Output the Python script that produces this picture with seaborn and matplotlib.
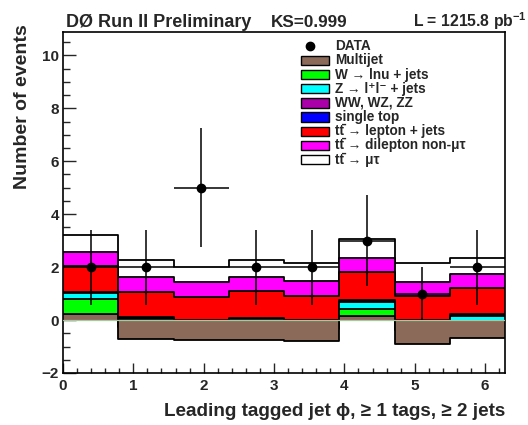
import numpy as np
import pandas as pd
import matplotlib
matplotlib.use("Agg")
import matplotlib.pyplot as plt
import seaborn as sns
from matplotlib.patches import Rectangle
from matplotlib.lines import Line2D
from matplotlib.ticker import MultipleLocator

# Binning: 8 bins in phi over [0, 2pi]
bin_edges = list(np.linspace(0.0, 2.0 * np.pi, 9))

# Observed events per bin
data_counts = [2, 2, 5, 2, 2, 3, 1, 2]

# Expected contributions per bin (stack order, bottom to top)
multijet = [0.24, -0.72, -0.74, -0.74, -0.79, 0.14, -0.89, -0.68]
w_jets = [0.54, 0.45, 0.42, 0.45, 0.46, 0.29, 0.50, 0.50]
z_jets = [0.23, 0.32, 0.28, 0.32, 0.30, 0.24, 0.33, 0.35]
diboson = [0.03, 0.02, 0.02, 0.02, 0.02, 0.05, 0.02, 0.02]
single_top = [0.03, 0.03, 0.03, 0.03, 0.03, 0.05, 0.03, 0.03]
tt_ljets = [0.97, 0.96, 0.86, 1.00, 0.90, 1.04, 0.90, 0.99]
tt_dilep = [0.54, 0.55, 0.56, 0.54, 0.54, 0.55, 0.54, 0.53]
tt_mutau = [0.65, 0.64, 0.59, 0.66, 0.71, 0.70, 0.72, 0.60]

labels = ["Multijet", "W → lnu + jets", "Z → l⁺l⁻ + jets",
          "WW, WZ, ZZ", "single top", "tt\u0304 → lepton + jets",
          "tt\u0304 → dilepton non-μτ", "tt\u0304 → μτ"]
colors = ["#8b6a5a", "#00ff00", "#00ffff", "#aa00aa", "#0000ff", "#ff0000", "#ff00ff", "#ffffff"]

sns.set_theme(style="ticks")
plt.rcParams["font.family"] = ["Liberation Sans", "DejaVu Sans"]
plt.rcParams["font.weight"] = "bold"
plt.rcParams["mathtext.fontset"] = "custom"
plt.rcParams["mathtext.rm"] = "Liberation Sans:bold"
plt.rcParams["mathtext.it"] = "Liberation Sans:bold"
plt.rcParams["mathtext.bf"] = "Liberation Sans:bold"
plt.rcParams["mathtext.default"] = "rm"

W, H = 528, 425
fig = plt.figure(figsize=(W / 100, H / 100), dpi=100)
ax = fig.add_axes([63 / W, 1 - 373 / H, 442 / W, 341.5 / H])

edges_arr = np.array(bin_edges)
centers = 0.5 * (edges_arr[:-1] + edges_arr[1:])
half_width = 0.5 * (edges_arr[1] - edges_arr[0])
stack = np.array([multijet, w_jets, z_jets, diboson, single_top, tt_ljets, tt_dilep, tt_mutau])
cumulative = np.cumsum(stack, axis=0)

# Stacked histogram: each cumulative sum filled from zero, topmost first
for k in range(len(stack) - 1, -1, -1):
    df = pd.DataFrame({"phi": centers, "events": cumulative[k]})
    sns.histplot(data=df, x="phi", weights="events", bins=bin_edges, element="step",
                 fill=True, color=colors[k], alpha=1.0, linewidth=0, ax=ax, zorder=2)
    sns.histplot(data=df, x="phi", weights="events", bins=bin_edges, element="step",
                 fill=False, color="black", linewidth=1.3, ax=ax, zorder=2)

ax.axhline(0, color="#a6c9a0", lw=0.9, zorder=3)

# Data with Poisson errors
ax.errorbar(centers, data_counts, xerr=half_width, yerr=np.sqrt(data_counts),
            fmt="o", color="black", ms=6, elinewidth=1.1, capsize=0, zorder=10)

ax.set_xlim(0, 2 * np.pi)
ax.set_ylim(-2, 10.9)
ax.xaxis.set_major_locator(MultipleLocator(1))
ax.xaxis.set_minor_locator(MultipleLocator(0.2))
ax.yaxis.set_major_locator(MultipleLocator(2))
ax.yaxis.set_minor_locator(MultipleLocator(0.5))
ax.tick_params(axis="both", which="both", direction="in", top=False, right=False,
               labelsize=11, width=1.0)
ax.tick_params(axis="y", which="major", length=9.5, pad=3)
ax.tick_params(axis="y", which="minor", length=5)
ax.tick_params(axis="x", which="major", length=7, pad=4)
ax.tick_params(axis="x", which="minor", length=3.6)
for sp in ax.spines.values():
    sp.set_linewidth(1.2)
    sp.set_color("black")
ax.set_xlabel("")
ax.set_ylabel("")

# Axis titles
fig.text(505 / W, 1 - 416.5 / H, "Leading tagged jet ϕ, ≥ 1 tags, ≥ 2 jets",
         ha="right", va="baseline", fontsize=13.6, fontweight="bold")
fig.text(23 / W, 1 - 24 / H, "Number of events", rotation=90, ha="center", va="top",
         fontsize=14, fontweight="bold")

# Header
fig.text(66 / W, 1 - 26.7 / H, "DØ Run II Preliminary", ha="left",
         va="baseline", fontsize=13, fontweight="bold")
fig.text(271 / W, 1 - 26.7 / H, "KS=0.999", ha="left",
         va="baseline", fontsize=12.3, fontweight="bold")
fig.text(527 / W, 1 - 26.7 / H, r"L = 1215.8 pb$^{-1}$", ha="right",
         va="baseline", fontsize=11.3, fontweight="bold")

# Legend, one row per sample
row0, pitch = 46.1, 14.2
legend_entries = ["DATA"] + labels
for i, text in enumerate(legend_entries):
    yc = row0 + pitch * i
    if i == 0:
        fig.add_artist(Line2D([310 / W], [1 - yc / H], marker="o", color="black",
                              markersize=6, linestyle="none", transform=fig.transFigure))
    else:
        fig.add_artist(Rectangle((300.7 / W, 1 - (yc + 4.6) / H), 28.6 / W, 9.2 / H,
                                 facecolor=colors[i - 1], edgecolor="black", lw=1.0,
                                 transform=fig.transFigure))
    fig.text(335 / W, 1 - (yc + 4.0) / H, text, ha="left", va="baseline",
             fontsize=9.8, fontweight="bold")

fig.savefig("out.png", dpi=100)
